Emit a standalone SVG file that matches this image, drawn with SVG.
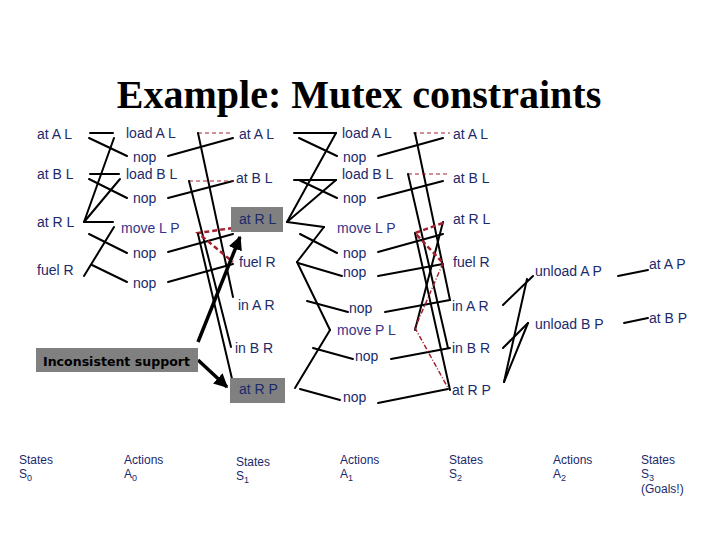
<svg xmlns="http://www.w3.org/2000/svg" width="720" height="540" viewBox="0 0 720 540">
<defs>
<style>
.t{font-family:"Liberation Sans",Arial,sans-serif;font-size:14px;fill:#1b2a6b}
.mv{fill:#34348a}
.b{font-family:"Liberation Sans",Arial,sans-serif;font-size:12px;fill:#1b2a6b}
.ttl{font-family:"Liberation Serif","Times New Roman",serif;font-size:40px;font-weight:bold;fill:#000}
.box{fill:#808080}
.l{stroke:#000;stroke-width:2;fill:none;stroke-linecap:round}
.m{stroke:#a3202c;stroke-width:1.2;fill:none;stroke-dasharray:4 3}
.mt{stroke:#a3202c;stroke-width:2.5;fill:none;stroke-dasharray:5 3}
.md{stroke:#a3202c;stroke-width:1.5;fill:none;stroke-dasharray:5 2 1 2}
.ar{stroke:#000;stroke-width:3.5;fill:none}
</style>
<marker id="ah" viewBox="0 0 10 10" refX="9" refY="5" markerWidth="4" markerHeight="4" orient="auto" markerUnits="strokeWidth">
<path d="M0,0 L10,5 L0,10 z" fill="#000"/>
</marker>
</defs>
<rect width="720" height="540" fill="#fff"/>
<text class="ttl" x="359" y="108" text-anchor="middle">Example: Mutex constraints</text>

<g id="connectors">
<!-- S0 -> A0 -->
<path class="l" d="M90,133 L113,133"/>
<path class="l" d="M89,138 L127,156"/>
<path class="l" d="M90,174 L119,174"/>
<path class="l" d="M89,179 L127,198"/>
<path class="l" d="M84,222 L114,138"/>
<path class="l" d="M84,222 L120,179"/>
<path class="l" d="M84,222 L113,222"/>
<path class="l" d="M84,276 L114,227"/>
<path class="l" d="M89,234 L127,253"/>
<path class="l" d="M92,265 L127,282"/>
<!-- A0 -> S1 -->
<path class="l" d="M168,156 L233,138"/>
<path class="l" d="M168,198 L233,181"/>
<path class="l" d="M168,252 L233,234"/>
<path class="l" d="M168,282 L233,264"/>
<path class="m" d="M198,133 L233,133"/>
<path class="l" d="M198,133 L233,297"/>
<path class="m" d="M189,181 L233,181"/>
<path class="l" d="M189,181 L231,347"/>
<path class="mt" d="M233,228 L198,233 L233,262"/>
<path class="l" d="M198,234 L233,383"/>
<!-- S1 -> A1 -->
<path class="l" d="M294,133 L336,133"/>
<path class="l" d="M299,138 L337,156"/>
<path class="l" d="M294,180 L336,180"/>
<path class="l" d="M299,180 L337,198"/>
<path class="l" d="M287,222 L336,133"/>
<path class="l" d="M287,222 L336,180"/>
<path class="l" d="M287,222 L324,227"/>
<path class="l" d="M297,262 L324,227"/>
<path class="l" d="M300,234 L337,253"/>
<path class="l" d="M298,263 L342,276"/>
<path class="l" d="M297,262 L330,330"/>
<path class="l" d="M295,388 L330,330"/>
<path class="l" d="M307,301 L348,312"/>
<path class="l" d="M313,348 L353,359"/>
<path class="l" d="M300,389 L340,400"/>
<!-- A1 -> S2 -->
<path class="m" d="M413,133 L450,133"/>
<path class="l" d="M415,133 L450,300"/>
<path class="m" d="M408,174 L448,174"/>
<path class="l" d="M408,174 L448,348"/>
<path class="l" d="M378,156 L443,138"/>
<path class="l" d="M378,198 L443,181"/>
<path class="l" d="M378,252 L443,234"/>
<path class="l" d="M378,276 L443,264"/>
<path class="l" d="M385,312 L450,300"/>
<path class="l" d="M391,359 L450,348"/>
<path class="l" d="M378,403 L448,389"/>
<path class="l" d="M415,233 L450,390"/>
<path class="l" d="M415,330 L443,222"/>
<path class="mt" d="M443,223 L415,233 L443,263"/>
<path class="md" d="M443,263 L415,328 L448,388"/>
<!-- S2 -> A2 -->
<path class="l" d="M503,305 L533,276"/>
<path class="l" d="M504,382 L527,279"/>
<path class="l" d="M503,348 L528,323"/>
<path class="l" d="M504,382 L528,323"/>
<!-- A2 -> S3 -->
<path class="l" d="M618,276 L648,270"/>
<path class="l" d="M624,323 L648,318"/>
<!-- Inconsistent support arrows -->
<path class="ar" d="M198,342 L240,237" marker-end="url(#ah)"/>
<path class="ar" d="M198,360 L227,387" marker-end="url(#ah)"/>
</g>

<g id="S0">
<text class="t" x="37" y="139">at A L</text>
<text class="t" x="37" y="179">at B L</text>
<text class="t" x="37" y="227">at R L</text>
<text class="t" x="37" y="275">fuel R</text>
</g>
<g id="A0">
<text class="t" x="126" y="138">load A L</text>
<text class="t" x="133" y="162">nop</text>
<text class="t" x="126" y="179">load B L</text>
<text class="t" x="133" y="203">nop</text>
<text class="t mv" x="121" y="233">move L P</text>
<text class="t" x="133" y="258">nop</text>
<text class="t" x="133" y="288">nop</text>
</g>
<g id="S1">
<text class="t" x="239" y="139">at A L</text>
<text class="t" x="236" y="183">at B L</text>
<rect class="box" x="231" y="207" width="52" height="25"/>
<text class="t" x="239" y="224">at R L</text>
<text class="t" x="239" y="267">fuel R</text>
<text class="t" x="238" y="310">in A R</text>
<text class="t" x="235" y="353">in B R</text>
<rect class="box" x="230" y="378" width="55" height="25"/>
<text class="t" x="239" y="394">at R P</text>
</g>
<g id="A1">
<text class="t" x="342" y="138">load A L</text>
<text class="t" x="343" y="162">nop</text>
<text class="t" x="342" y="179">load B L</text>
<text class="t" x="343" y="203">nop</text>
<text class="t mv" x="337" y="233">move L P</text>
<text class="t" x="343" y="258">nop</text>
<text class="t" x="343" y="277">nop</text>
<text class="t" x="349" y="313">nop</text>
<text class="t mv" x="337" y="335">move P L</text>
<text class="t" x="355" y="361">nop</text>
<text class="t" x="343" y="402">nop</text>
</g>
<g id="S2">
<text class="t" x="453" y="139">at A L</text>
<text class="t" x="453" y="183">at B L</text>
<text class="t" x="453" y="224">at R L</text>
<text class="t" x="453" y="267">fuel R</text>
<text class="t" x="452" y="311">in A R</text>
<text class="t" x="452" y="353">in B R</text>
<text class="t" x="452" y="395">at R P</text>
</g>
<g id="A2">
<text class="t" x="535" y="276">unload A P</text>
<text class="t" x="535" y="329">unload B P</text>
</g>
<g id="S3">
<text class="t" x="649" y="269">at A P</text>
<text class="t" x="649" y="323">at B P</text>
</g>
<g id="inconsistent">
<rect class="box" x="36" y="348" width="162" height="24"/>
<text x="43" y="366" font-family="'DejaVu Sans',Verdana,sans-serif" font-size="13" font-weight="bold" fill="#000" textLength="147" lengthAdjust="spacingAndGlyphs">Inconsistent support</text>
</g>
<g id="legend">
<text class="b" x="19" y="464">States</text>
<text class="b" x="19" y="478">S<tspan font-size="9" dy="3">0</tspan></text>
<text class="b" x="124" y="464">Actions</text>
<text class="b" x="124" y="478">A<tspan font-size="9" dy="3">0</tspan></text>
<text class="b" x="236" y="466">States</text>
<text class="b" x="236" y="480">S<tspan font-size="9" dy="3">1</tspan></text>
<text class="b" x="340" y="464">Actions</text>
<text class="b" x="340" y="478">A<tspan font-size="9" dy="3">1</tspan></text>
<text class="b" x="449" y="464">States</text>
<text class="b" x="449" y="478">S<tspan font-size="9" dy="3">2</tspan></text>
<text class="b" x="553" y="464">Actions</text>
<text class="b" x="553" y="478">A<tspan font-size="9" dy="3">2</tspan></text>
<text class="b" x="641" y="464">States</text>
<text class="b" x="641" y="478">S<tspan font-size="9" dy="3">3</tspan></text>
<text class="b" x="641" y="493">(Goals!)</text>
</g>
</svg>
